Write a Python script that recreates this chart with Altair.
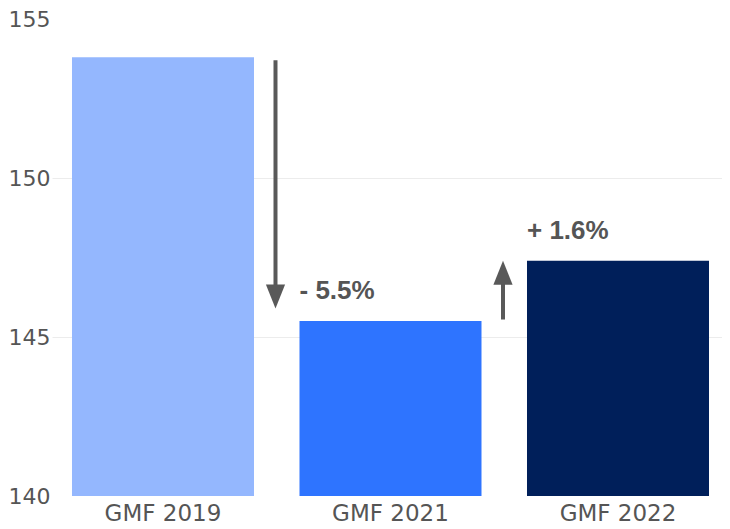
import altair as alt
import pandas as pd

# ---- data ----
categories = ["GMF 2019", "GMF 2021", "GMF 2022"]
values = [153.8, 145.5, 147.4]
bar_colors = ["#94B7FE", "#2E74FF", "#001F5A"]
change_labels = ["", "- 5.5%", "+ 1.6%"]

arrow_cats = ["GMF 2021", "GMF 2022"]
arrow_from = [153.7, 145.55]
arrow_to = [145.9, 147.4]
arrow_dir = ["down", "up"]

y_ticks = [140, 145, 150, 155]
baseline = 140

bars_df = pd.DataFrame({"cat": categories, "value": values, "label": change_labels})
arrows_df = pd.DataFrame({"cat": arrow_cats, "start": arrow_from, "end": arrow_to, "dir": arrow_dir})

x_enc = alt.X(
    "cat:N",
    sort=categories,
    scale=alt.Scale(paddingInner=0.2, paddingOuter=0.0725, align=0.606),
    axis=alt.Axis(
        title=None, labelAngle=0, ticks=False, domain=False,
        labelFontSize=23, labelFont="DejaVu Sans", labelColor="#555555",
        labelPadding=6, grid=False,
    ),
)
y_scale = alt.Scale(domain=[140, 155], nice=False, zero=False)
y_axis = alt.Axis(
    title=None, values=y_ticks, ticks=False, domain=False,
    labelFontSize=22, labelFont="DejaVu Sans", labelColor="#555555",
    labelPadding=2, gridColor="#ececec",
    gridOpacity={"condition": {"test": "datum.value > 140 && datum.value < 155", "value": 1}, "value": 0},
)

bars = alt.Chart(bars_df).mark_bar().encode(
    x=x_enc,
    y=alt.Y("value:Q", scale=y_scale, axis=y_axis),
    y2=alt.datum(baseline),
    color=alt.Color("cat:N", scale=alt.Scale(domain=categories, range=bar_colors), legend=None),
)

labels = alt.Chart(bars_df).mark_text(
    align="left", baseline="alphabetic", dy=-22,
    font="Liberation Sans", fontWeight="bold", fontSize=26, color="#555555",
).encode(
    x=alt.X("cat:N", sort=categories, bandPosition=0),
    y=alt.Y("value:Q"),
    text="label:N",
)

arrow_color = "#595959"


def arrow_layer(direction, head_path, shaft_offset):
    base = alt.Chart(arrows_df).transform_filter(f"datum.dir == '{direction}'")
    shaft = base.mark_rule(strokeWidth=4, color=arrow_color, xOffset=-24, y2Offset=shaft_offset).encode(
        x=alt.X("cat:N", sort=categories, bandPosition=0),
        y=alt.Y("start:Q"),
        y2=alt.Y2("end:Q"),
    )
    head = base.mark_point(
        shape=head_path, filled=True, size=576, color=arrow_color, opacity=1, xOffset=-24,
    ).encode(
        x=alt.X("cat:N", sort=categories, bandPosition=0),
        y=alt.Y("end:Q"),
    )
    return shaft + head


down_arrow = arrow_layer("down", "M -0.8 -2 L 0.8 -2 L 0 0 Z", -20)
up_arrow = arrow_layer("up", "M -0.8 2 L 0.8 2 L 0 0 Z", 20)

chart = alt.layer(bars, labels, down_arrow, up_arrow).properties(
    width=670, height=477,
    padding={"left": 0, "top": 0, "right": 0, "bottom": 0},
    background="white",
).configure_view(stroke=None)

chart.save("out.html", embed_options={"renderer": "svg", "actions": False})
